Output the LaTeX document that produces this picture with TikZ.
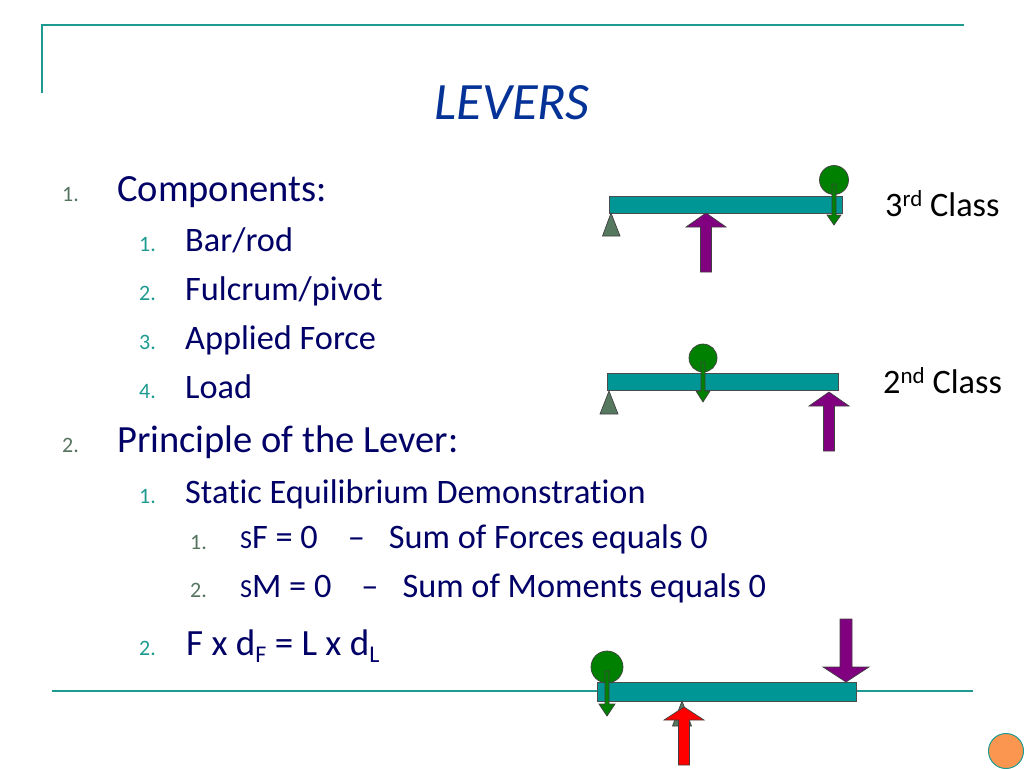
\documentclass[tikz,border=0pt]{standalone}
\usepackage{fontspec}
\setmainfont[Ligatures=NoCommon]{Carlito}
\definecolor{slideteal}{RGB}{30,155,145}
\definecolor{barteal}{RGB}{0,150,150}
\definecolor{navy}{RGB}{0,0,102}
\definecolor{titleblue}{RGB}{5,50,150}
\definecolor{numgreen}{RGB}{85,115,95}
\definecolor{fulcrum}{RGB}{85,120,95}
\definecolor{loadgreen}{RGB}{0,128,0}
\definecolor{forcepurple}{RGB}{128,0,128}
\definecolor{dotorange}{RGB}{250,150,80}
\tikzset{
	rule/.style={draw=slideteal,line width=2pt},
	bar/.style={draw=black!70,fill=barteal,line width=.8pt},
	outline/.style={draw=black!75,line width=.7pt},
	level1/.style={anchor=base west,inner sep=0pt,navy,font=\fontsize{38.5}{42}\selectfont},
	level2/.style={anchor=base west,inner sep=0pt,navy,font=\fontsize{34.3}{38}\selectfont},
	num/.style={anchor=base west,inner sep=0pt,numgreen,font=\fontsize{22}{24}\selectfont},
	numb/.style={anchor=base west,inner sep=0pt,slideteal,font=\fontsize{22}{24}\selectfont},
	classlabel/.style={anchor=base west,inner sep=0pt,black,font=\fontsize{34.3}{38}\selectfont},
}
% vertical block arrow: tip x, tip y, head base y, tail y, head half width, shaft half width, colour
\newcommand{\blockarrow}[7]{
	\draw[outline,fill=#7] (#1,#2) -- (#1+#5,#3) -- (#1+#6,#3) -- (#1+#6,#4)
		-- (#1-#6,#4) -- (#1-#6,#3) -- (#1-#5,#3) -- cycle;
}
\begin{document}
\begin{tikzpicture}[x=1pt,y=-1pt]
	\useasboundingbox (0,0) rectangle (1024,768);

	% slide frame
	\coordinate (frametop) at (42,93);
	\coordinate (framecorner) at (42,25);
	\coordinate (frameend) at (964,25);
	\coordinate (footstart) at (52,691);
	\coordinate (footend) at (973,691);
	\draw[rule] (frametop) -- (framecorner) -- (frameend);
	\draw[rule] (footstart) -- (footend);
	\draw[draw=slideteal,fill=dotorange,line width=1pt] (1006,751) circle (17.5);

	\node[anchor=base,titleblue,font=\fontsize{52.5}{56}\selectfont\itshape] (title) at (512,119) {LEVERS};

	% the list
	\node[num] (n1) at (62,201) {1.};
	\node[level1] (components) at (117,201) {Components:};
	\node[numb] (n11) at (139,251) {1.};
	\node[level2] (bar) at (185,251) {Bar/rod};
	\node[numb] (n12) at (139,300) {2.};
	\node[level2] (pivot) at (185,300) {Fulcrum/pivot};
	\node[numb] (n13) at (139,349) {3.};
	\node[level2] (applied) at (185,349) {Applied Force};
	\node[numb] (n14) at (139,398) {4.};
	\node[level2] (load) at (185,398) {Load};
	\node[num] (n2) at (62,452) {2.};
	\node[level1] (principle) at (117,452) {Principle of the Lever:};
	\node[numb] (n21) at (139,503) {1.};
	\node[level2] (static) at (185,503) {Static Equilibrium Demonstration};
	\node[num] (n211) at (190,549) {1.};
	\node[level2] (sumf) at (240,548) {{\fontsize{26}{28}\selectfont S}F = 0\hspace{30pt}–\hspace{24pt}Sum of Forces equals 0};
	\node[num] (n212) at (190,597) {2.};
	\node[level2] (summ) at (240,597) {{\fontsize{26}{28}\selectfont S}M = 0\hspace{30pt}–\hspace{24pt}Sum of Moments equals 0};
	\node[numb] (n22) at (139,655) {2.};
	\node[level2,font=\fontsize{37}{40}\selectfont] (law) at (186,655) {F x d\raisebox{-7pt}{\fontsize{24}{26}\selectfont F} = L x d\raisebox{-7pt}{\fontsize{24}{26}\selectfont L}};

	% 3rd class
	\draw[bar] (609,196) rectangle (842,213);
	\draw[outline,fill=fulcrum] (611,213) -- (620,236) -- (602.5,236) -- cycle;
	\blockarrow{706}{213}{227}{272}{20}{5.5}{forcepurple}
	\draw[outline,fill=loadgreen] (834,180) circle (14.5);
	\blockarrow{834}{225}{215}{184}{7}{2}{loadgreen}
	\node[classlabel] (third) at (885,216) {3\raisebox{10pt}{\fontsize{23}{25}\selectfont rd} Class};

	% 2nd class
	\draw[bar] (607,373) rectangle (838,390);
	\draw[outline,fill=fulcrum] (609,391) -- (618,414) -- (600,414) -- cycle;
	\draw[outline,fill=loadgreen] (703,358) circle (14);
	\blockarrow{703}{402}{391}{362}{7}{2}{loadgreen}
	\blockarrow{829}{392}{406}{451}{20}{5.5}{forcepurple}
	\node[classlabel] (second) at (883,393) {2\raisebox{10pt}{\fontsize{23}{25}\selectfont nd} Class};

	% 1st class
	\draw[bar] (597,682) rectangle (856,701);
	\draw[outline,fill=fulcrum] (682,701) -- (691.5,726) -- (672.5,726) -- cycle;
	\blockarrow{684}{707}{720}{765}{20}{5.5}{red}
	\draw[outline,fill=loadgreen] (607,667) circle (16);
	\blockarrow{607}{716}{704}{671}{8}{2}{loadgreen}
	\blockarrow{846}{682}{667}{619}{23}{6}{forcepurple}

\end{tikzpicture}
\end{document}
